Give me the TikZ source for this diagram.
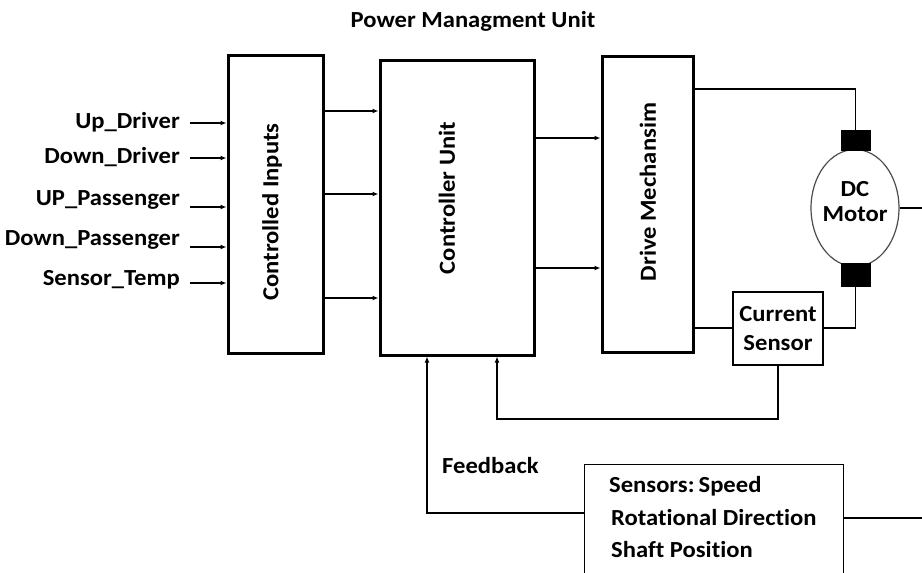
\documentclass[tikz,border=0pt]{standalone}
\usepackage{fontspec}
\setmainfont{Carlito}[RawFeature=-liga]
\usetikzlibrary{arrows.meta,shapes.geometric}
\newcommand{\wide}[1]{\scalebox{1.07}[1]{#1}}
\tikzset{
  thickbox/.style={draw=black,line width=3pt,fill=white,inner sep=0pt},
  medbox/.style={draw=black,line width=2.4pt,fill=white,inner sep=0pt},
  thinbox/.style={draw=black,line width=1.4pt,fill=white,inner sep=0pt},
  lbl/.style={font=\fontsize{23}{25}\selectfont\bfseries,inner sep=0pt},
  wire/.style={line width=1.3pt},
  arr/.style={line width=1.3pt,-{Latex[length=6pt,width=5pt]}},
  brush/.style={draw=black,fill=black,minimum width=29pt,minimum height=20pt,inner sep=0pt}
}
\begin{document}
\begin{tikzpicture}[x=1pt,y=-1pt]
\useasboundingbox (0,0) rectangle (922,573);
\clip (0,0) rectangle (922,573);
\fill[white] (0,0) rectangle (922,573);

% title
\node[lbl] (title) at (473,21) {\wide{Power Managment Unit}};

% main boxes
\node[thickbox,minimum width=95pt,minimum height=298pt] (ci) at (275.5,204) {};
\node[lbl,rotate=90] (citxt) at (272,212) {\wide{Controlled Inputs}};
\node[thickbox,minimum width=154pt,minimum height=295pt] (cu) at (457,207.5) {};
\node[lbl,rotate=90] (cutxt) at (447,198) {\wide{Controller Unit}};
\node[thickbox,minimum width=91pt,minimum height=296pt] (dm) at (647.5,204) {};
\node[lbl,rotate=90] (dmtxt) at (648,192) {\wide{Drive Mechansim}};

% inputs
\node[lbl,anchor=east] (i1) at (180,122) {\wide{Up\_Driver}};
\node[lbl,anchor=east] (i2) at (180,157) {\wide{Down\_Driver}};
\node[lbl,anchor=east] (i3) at (180,200) {\wide{UP\_Passenger}};
\node[lbl,anchor=east] (i4) at (180,240) {\wide{Down\_Passenger}};
\node[lbl,anchor=east] (i5) at (180,280) {\wide{Sensor\_Temp}};
\coordinate (a1) at (190,123);
\coordinate (a2) at (190,158);
\coordinate (a3) at (190,207);
\coordinate (a4) at (190,247);
\coordinate (a5) at (190,283);
\foreach \k in {1,...,5}{\draw[arr] (a\k) -- (ci.west |- a\k);}

% CI -> CU
\coordinate (b1) at (323,111);
\coordinate (b2) at (323,194);
\coordinate (b3) at (323,298);
\foreach \k in {1,2,3}{\draw[arr] (b\k) -- (cu.west |- b\k);}

% CU -> DM
\coordinate (c1) at (534,138);
\coordinate (c2) at (534,268);
\foreach \k in {1,2}{\draw[arr] (c\k) -- (dm.west |- c\k);}

% motor
\node[draw=black!70,line width=1.2pt,ellipse,fill=white,minimum width=88pt,minimum height=117pt,inner sep=0pt] (motor) at (855,208) {};
\node[brush] (bt) at (855.5,140) {};
\node[brush,minimum height=23pt] (bb) at (855.5,274.5) {};
\node[lbl,align=center] (mtxt) at (855,202) {\wide{DC}\\\wide{Motor}};

% current sensor
\node[medbox,minimum width=90pt,minimum height=73pt] (cs) at (778,328.5) {};
\node[lbl,align=center,font=\fontsize{23}{29}\selectfont\bfseries] (cstxt) at (cs.center) {\wide{Current}\\\wide{Sensor}};

% wires
\draw[wire] (dm.east |- 0,89) -| (bt.north);
\draw[wire] (bb.south) |- (cs.east |- 0,328);
\draw[wire] (dm.east |- 0,328) -- (cs.west |- 0,328);
\draw[wire] (motor.east) -- (922,208);

% sensors box
\node[thinbox,anchor=north west,minimum width=259pt,minimum height=150pt] (sb) at (584,464) {};
\node[lbl,anchor=west] (s1) at (609,486) {\wide{Sensors:\,Speed}};
\node[lbl,anchor=west] (s2) at (611,518) {\wide{Rotational Direction}};
\node[lbl,anchor=west] (s3) at (611,550) {\wide{Shaft Position}};
\draw[wire] (sb.east |- 0,518) -- (922,518);

% feedback
\node[lbl,anchor=west] (fb) at (442,466) {\wide{Feedback}};
\coordinate (f1) at (497,419);
\draw[arr] (cs.south) |- (f1) -- (f1 |- cu.south);
\coordinate (f2) at (427,513);
\draw[arr] (sb.west |- f2) -- (f2) -- (f2 |- cu.south);
\end{tikzpicture}
\end{document}
